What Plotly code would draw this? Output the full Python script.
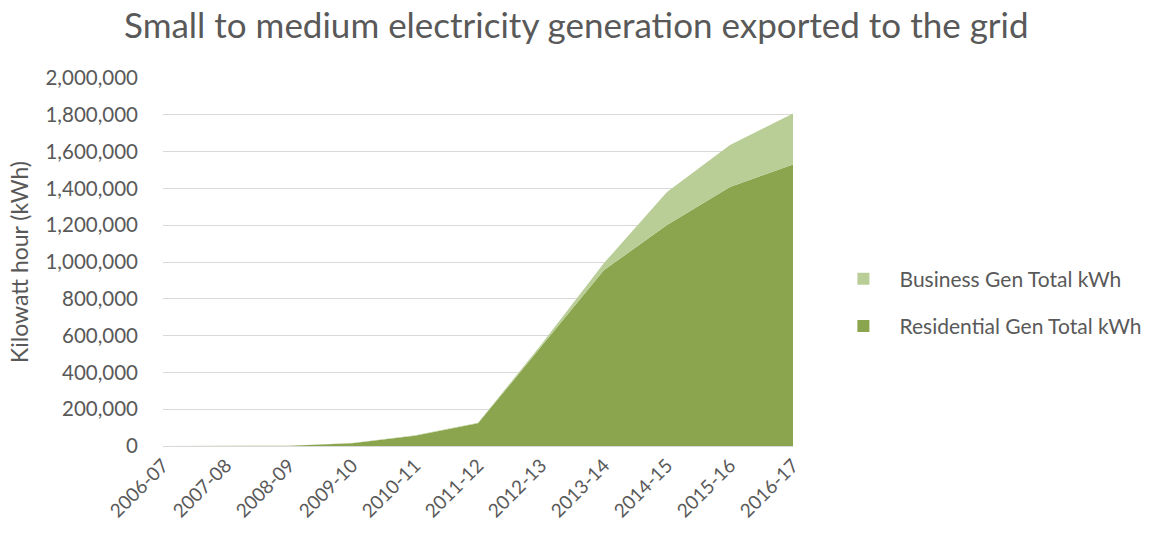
import plotly.graph_objects as go

years = ["2006-07", "2007-08", "2008-09", "2009-10", "2010-11", "2011-12",
         "2012-13", "2013-14", "2014-15", "2015-16", "2016-17"]
residential = [0, 0, 2000, 15000, 56000, 123000, 542000, 956000, 1201000, 1408000, 1530000]
business = [0, 0, 0, 1000, 2000, 3000, 8000, 38000, 180000, 228000, 277000]

res_color = "#8AA54E"
bus_color = "#B9CE97"
text_color = "#595959"
font_family = "Lato"
pad = "\u00a0\u00a0\u00a0"

fig = go.Figure()
fig.add_trace(go.Scatter(x=years, y=residential, stackgroup="one", mode="lines",
                         line=dict(width=0, color=res_color), fillcolor=res_color,
                         name="Residential Gen Total kWh", showlegend=False, hoverinfo="skip"))
fig.add_trace(go.Scatter(x=years, y=business, stackgroup="one", mode="lines",
                         line=dict(width=0, color=bus_color), fillcolor=bus_color,
                         name="Business Gen Total kWh", showlegend=False, hoverinfo="skip"))
# legend entries with square markers (Business listed first, as in the original)
fig.add_trace(go.Scatter(x=[None], y=[None], mode="markers", legendgroup="bus",
                         marker=dict(symbol="square", size=13, color=bus_color),
                         name=pad + "Business Gen Total kWh"))
fig.add_trace(go.Scatter(x=[None], y=[None], mode="markers", legendgroup="res",
                         marker=dict(symbol="square", size=13, color=res_color),
                         name=pad + "Residential Gen Total kWh"))

fig.update_layout(
    width=1162, height=535,
    margin=dict(l=163, r=369, t=78, b=89),
    paper_bgcolor="white", plot_bgcolor="white",
    font=dict(family=font_family, color=text_color),
    title=dict(text="Small to medium electricity generation exported to the grid",
               x=0.496, xanchor="center", y=0.952, yanchor="middle",
               font=dict(size=35, color=text_color, family=font_family)),
    legend=dict(x=1.080, xanchor="left", y=0.39, yanchor="middle",
                traceorder="grouped", tracegroupgap=17, itemsizing="constant",
                font=dict(size=21, color=text_color, family=font_family)),
    showlegend=True,
)
fig.update_xaxes(type="category", range=[0, 10], showgrid=False,
                 showline=True, linecolor="#D9D9D9", linewidth=1,
                 tickangle=-45, tickfont=dict(size=19, color=text_color),
                 ticks="", fixedrange=True)
fig.update_yaxes(range=[0, 2000000], dtick=200000, tickformat=",",
                 showgrid=True, gridcolor="#D9D9D9", gridwidth=1,
                 zeroline=False, showline=False,
                 tickfont=dict(size=20.5, color=text_color),
                 ticklabelstandoff=24,
                 title=dict(text="Kilowatt hour (kWh)", standoff=10,
                            font=dict(size=23, color=text_color)))

fig.write_html("out.html")
